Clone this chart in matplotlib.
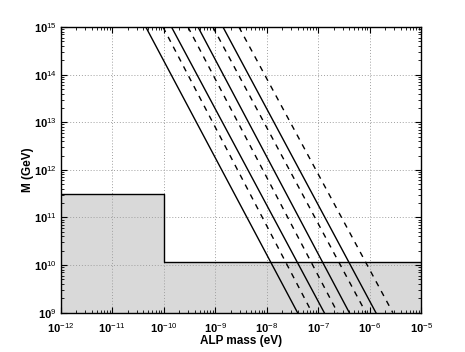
import matplotlib
matplotlib.use("Agg")
import matplotlib.pyplot as plt
import numpy as np
from matplotlib.ticker import LogLocator, FixedLocator, NullFormatter

plt.rcParams['font.family'] = ['Liberation Sans', 'DejaVu Sans']
plt.rcParams['mathtext.fontset'] = 'custom'
plt.rcParams['mathtext.rm'] = 'Liberation Sans'
plt.rcParams['mathtext.bf'] = 'Liberation Sans:bold'

# Excluded region (step boundary)
excl_mass = [1e-12, 1e-10, 1e-10, 1e-5]
excl_M = [3.1e11, 3.1e11, 1.16e10, 1.16e10]

# Lines: ALP mass at M=1e15 (top) and at M=1e9 (bottom)
line_M = [1e15, 1e9]
line_m_top = [4.5e-11, 9.7e-11, 1.42e-10, 2.97e-10, 4.65e-10, 9.05e-10, 1.42e-9, 2.9e-9]
line_m_bottom = [4.0e-8, 7.65e-8, 1.32e-7, 2.4e-7, 4.05e-7, 8.5e-7, 1.33e-6, 2.84e-6]
line_styles = ['-', '--', '-', '--', '-', '--', '-', '--']

xticks = [1e-12, 1e-11, 1e-10, 1e-9, 1e-8, 1e-7, 1e-6, 1e-5]
xexp = ['-12', '-11', '-10', '-9', '-8', '-7', '-6', '-5']
yticks = [1e9, 1e10, 1e11, 1e12, 1e13, 1e14, 1e15]
yexp = ['9', '10', '11', '12', '13', '14', '15']

xticklabels = [r'$\mathbf{10}^{' + e + '}$' for e in xexp]
yticklabels = [r'$\mathbf{10}^{' + e + '}$' for e in yexp]

fig = plt.figure(figsize=(4.65, 3.52), dpi=100)
ax = fig.add_axes([60.7/465, 1 - 312.7/352, (421 - 60.7)/465, (312.7 - 27)/352])

ax.fill_between(excl_mass, 1e9, excl_M, color='#d9d9d9', linewidth=0, zorder=0)
ax.plot(excl_mass, excl_M, color='black', linewidth=1.0, zorder=3)

for mt, mb, ls in zip(line_m_top, line_m_bottom, line_styles):
    if ls == '--':
        ax.plot([mt, mb], line_M, color='black', linestyle='--', dashes=(4, 4),
                linewidth=1.0, zorder=3)
    else:
        ax.plot([mt, mb], line_M, color='black', linestyle='-', linewidth=1.0, zorder=3)

ax.set_xscale('log')
ax.set_yscale('log')
ax.set_xlim(1e-12, 1e-5)
ax.set_ylim(1e9, 1e15)

ax.xaxis.set_major_locator(FixedLocator(xticks))
ax.yaxis.set_major_locator(FixedLocator(yticks))
ax.set_xticklabels(xticklabels)
ax.set_yticklabels(yticklabels)
ax.xaxis.set_minor_locator(LogLocator(base=10, subs=np.arange(2, 10), numticks=20))
ax.yaxis.set_minor_locator(LogLocator(base=10, subs=np.arange(2, 10), numticks=20))
ax.xaxis.set_minor_formatter(NullFormatter())
ax.yaxis.set_minor_formatter(NullFormatter())

ax.tick_params(which='both', direction='in', top=True, right=True, labelsize=8)
ax.tick_params(axis='x', pad=6)
ax.tick_params(axis='y', pad=3)
ax.tick_params(which='major', length=4, width=0.8)
ax.tick_params(which='minor', length=2, width=0.6)

ax.grid(True, which='major', linestyle=(0, (1, 2)), color='#a0a0a0', linewidth=0.7, zorder=1)

for s in ax.spines.values():
    s.set_linewidth(1.0)
    s.set_zorder(4)

ax.set_xlabel('ALP mass (eV)', fontsize=8.5, fontweight='bold', labelpad=0)
ax.set_ylabel('M (GeV)', fontsize=8.5, fontweight='bold', labelpad=0)

fig.savefig('out.png', dpi=100)
